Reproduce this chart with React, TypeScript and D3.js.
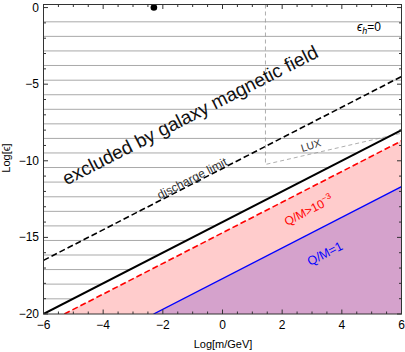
import React from "react";
import * as d3 from "d3";

const W = 405, H = 352;
const xDomain = [-6, 6];
const yDomain = [-20, 0.2];
const xMajor = [-6, -4, -2, 0, 2, 4, 6];
const yMajor = [0, -5, -10, -15, -20];
// hatch lines (excluded region) in Log[eps]
const hatchLevels = [-0.93, -1.88, -2.83, -3.78, -4.74, -5.69, -6.64, -7.59, -8.54, -9.49, -10.44, -11.39, -12.35, -13.3, -14.25, -15.2, -16.15, -17.1, -18.05, -19.01];
// boundary lines: [x, y] endpoints
const galaxyLine = [[-6, -20], [6, -8]];
const dischargeLine = [[-6, -16.5], [6, -4.5]];
const qm3Line = [[-5.3, -20], [6, -8.7]];
const qm1Line = [[-2.31, -20], [6, -11.69]];
const luxLine = [[1.44, 0.2], [1.44, -10.24], [6, -8.2]];
const dotPoint = [-2.3, 0];

const font = "'Liberation Sans', Arial, sans-serif";

export default function App() {
  const left = 43.5, right = 401.5, top = 4.5, bottom = 314;
  const x = d3.scaleLinear().domain(xDomain).range([left, right]);
  const y = d3.scaleLinear().domain(yDomain).range([bottom, top]);
  const line = d3.line<number[]>().x(d => x(d[0])).y(d => y(d[1]));

  const hatchClip = [[-6, -20], galaxyLine[1], [6, yDomain[1]], [-6, yDomain[1]]];
  const pinkPoly = [qm3Line[0], qm3Line[1], [6, -20]];
  const purplePoly = [qm1Line[0], qm1Line[1], [6, -20]];

  const xMinor = d3.range(-6, 6.01, 0.5).filter(v => !xMajor.includes(v));
  const yMinor = d3.range(-20, 0.01, 1).filter(v => !yMajor.includes(v));

  const ang = -27;
  return (
    <svg width={W} height={H} style={{ position: "absolute", left: 0, top: 0 }} fontFamily={font}>
      <defs>
        <clipPath id="hc"><path d={line(hatchClip as any) + "Z"} /></clipPath>
        <clipPath id="pa"><rect x={left} y={top} width={right - left} height={bottom - top} /></clipPath>
      </defs>
      <rect width={W} height={H} fill="#fff" />
      <g clipPath="url(#hc)">
        {hatchLevels.map((v, i) => (
          <line key={i} x1={left} x2={right} y1={y(v)} y2={y(v)} stroke="#a9a9a9" strokeWidth={1} />
        ))}
      </g>
      <g clipPath="url(#pa)">
        <path d={line(pinkPoly as any) + "Z"} fill="#ffcccc" />
        <path d={line(purplePoly as any) + "Z"} fill="#d5a2cc" />
        <path d={line(luxLine as any)!} fill="none" stroke="#999" strokeWidth={0.8} strokeDasharray="4,3" />
        <path d={line(dischargeLine as any)!} fill="none" stroke="#000" strokeWidth={1.6} strokeDasharray="6,3" />
        <path d={line(galaxyLine as any)!} fill="none" stroke="#000" strokeWidth={2} />
        <path d={line(qm3Line as any)!} fill="none" stroke="#ff0000" strokeWidth={1.6} strokeDasharray="6,3" />
        <path d={line(qm1Line as any)!} fill="none" stroke="#0000ff" strokeWidth={1.4} />
      </g>
      <circle cx={x(dotPoint[0])} cy={y(dotPoint[1])} r={3.3} fill="#000" />

      {/* labels */}
      <text x={193} y={121} fontSize={19} textAnchor="middle" transform={`rotate(${ang},193,121)`} fill="#111">excluded by galaxy magnetic field</text>
      <text x={194} y={182} fontSize={12} textAnchor="middle" transform={`rotate(${ang},194,182)`} fill="#333">discharge limit</text>
      <text x={312} y={149} fontSize={10.5} textAnchor="middle" transform={`rotate(-17,312,149)`} fill="#333">LUX</text>
      <text x={287} y={226} fontSize={12} transform={`rotate(${ang},287,226)`} fill="#ff0000">Q/M&gt;10<tspan fontSize={8.5} dy={-5}>−3</tspan></text>
      <text x={310} y={266} fontSize={12.5} transform={`rotate(${ang},310,266)`} fill="#0000ff">Q/M=1</text>
      <text x={357} y={31} fontSize={12} fill="#000"><tspan fontStyle="italic">ϵ</tspan><tspan fontStyle="italic" fontSize={9} dy={3}>h</tspan><tspan dy={-3}>=0</tspan></text>

      {/* frame */}
      <rect x={left} y={top} width={right - left} height={bottom - top} fill="none" stroke="#333" strokeWidth={1} />
      {xMajor.map(v => (
        <g key={"xm" + v}>
          <line x1={x(v)} x2={x(v)} y1={bottom} y2={bottom - 4.5} stroke="#333" />
          <line x1={x(v)} x2={x(v)} y1={top} y2={top + 4.5} stroke="#333" />
          <text x={x(v)} y={329} fontSize={12} textAnchor="middle" fill="#000">{v < 0 ? "−" + -v : v}</text>
        </g>
      ))}
      {xMinor.map(v => (
        <g key={"xn" + v}>
          <line x1={x(v)} x2={x(v)} y1={bottom} y2={bottom - 2.5} stroke="#333" />
          <line x1={x(v)} x2={x(v)} y1={top} y2={top + 2.5} stroke="#333" />
        </g>
      ))}
      {yMajor.map(v => (
        <g key={"ym" + v}>
          <line x1={left} x2={left + 4.5} y1={y(v)} y2={y(v)} stroke="#333" />
          <line x1={right} x2={right - 4.5} y1={y(v)} y2={y(v)} stroke="#333" />
          <text x={39} y={y(v) + 4} fontSize={12} textAnchor="end" fill="#000">{v < 0 ? "−" + -v : v}</text>
        </g>
      ))}
      {yMinor.map(v => (
        <g key={"yn" + v}>
          <line x1={left} x2={left + 2.5} y1={y(v)} y2={y(v)} stroke="#333" />
          <line x1={right} x2={right - 2.5} y1={y(v)} y2={y(v)} stroke="#333" />
        </g>
      ))}
      <text x={223} y={348} fontSize={11} textAnchor="middle" fill="#000">Log[m/GeV]</text>
      <text x={10} y={158} fontSize={11} textAnchor="middle" transform="rotate(-90,10,158)" fill="#000">Log[ϵ]</text>
    </svg>
  );
}
